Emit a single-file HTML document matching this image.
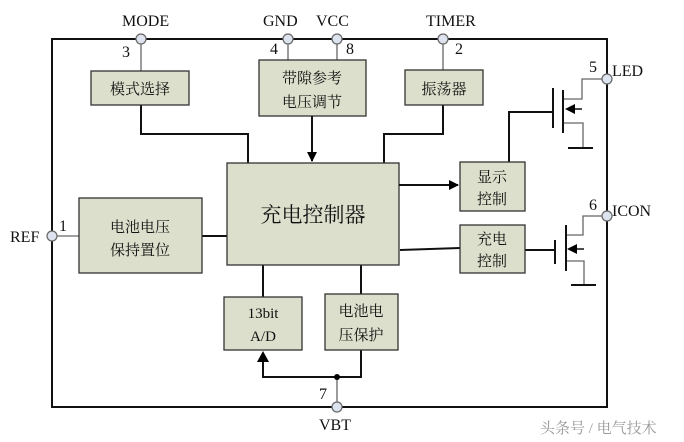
<!DOCTYPE html>
<html><head><meta charset="utf-8"><style>
html,body{margin:0;padding:0;background:#fff;}
svg{display:block;}
text{font-family:"Liberation Serif","Noto Serif CJK SC",serif;fill:#111;}
.c{font-family:"Liberation Serif","Noto Serif CJK SC",serif;font-size:15px;}
</style></head><body>
<svg width="684" height="442" viewBox="0 0 684 442" xmlns="http://www.w3.org/2000/svg">
<defs><marker id="a" markerWidth="10" markerHeight="10" refX="9" refY="5" orient="auto" markerUnits="userSpaceOnUse"><path d="M0,0 L10,5 L0,10 z" fill="#000"/></marker></defs>
<rect x="52" y="39" width="555" height="368" fill="none" stroke="#111" stroke-width="2"/>
<g stroke="#666" stroke-width="1.3" fill="none">
<path d="M141 39V71M288 39V60M337 39V60M443 39V70M52 236H79M337 377V407"/>
<path d="M563 99H582V79H607M563 123H583V148M566 235H583V216H607M566 261H584V285"/>
</g>
<g stroke="#111" stroke-width="2" fill="none">
<path d="M141 105V134H248V163M443 105V134H384V163M202 236H227M509 162V112H553M525 250H555M400 250L460 248M263 265V297M361 265V294M361 350V377H263V360"/>
<path d="M553 88V128M563 90V133M568 148H593M555 240V264M566 225V271M571 285H596"/>
</g>
<g fill="#dbdfcb" stroke="#333" stroke-width="1.3">
<rect x="91" y="71" width="98" height="34"/>
<rect x="259" y="60" width="107" height="56"/>
<rect x="405" y="70" width="78" height="35"/>
<rect x="227" y="163" width="172" height="102"/>
<rect x="79" y="198" width="123" height="75"/>
<rect x="460" y="162" width="65" height="49"/>
<rect x="460" y="225" width="65" height="48"/>
<rect x="224" y="297" width="78" height="53"/>
<rect x="325" y="294" width="73" height="56"/>
</g>
<path d="M312 116V161" stroke="#111" stroke-width="2" marker-end="url(#a)"/>
<path d="M399 185H458" stroke="#111" stroke-width="2" marker-end="url(#a)"/>
<path d="M263 351L257 362H269Z" fill="#000"/>
<path d="M582 109H573" stroke="#111" stroke-width="1.5"/><path d="M565 109L575 104V114Z" fill="#000"/>
<path d="M584 249H575" stroke="#111" stroke-width="1.5"/><path d="M567 249L577 244V254Z" fill="#000"/>
<circle cx="337" cy="377" r="3" fill="#000"/>
<g fill="#dde4ef" stroke="#666" stroke-width="1.2">
<circle cx="141" cy="39" r="5"/><circle cx="288" cy="39" r="5"/><circle cx="337" cy="39" r="5"/><circle cx="443" cy="39" r="5"/>
<circle cx="607" cy="79" r="5"/><circle cx="607" cy="216" r="5"/><circle cx="52" cy="236" r="5"/><circle cx="337" cy="407" r="5"/>
</g>
<g font-size="16">
<text x="122" y="26">MODE</text><text x="263" y="26">GND</text><text x="316" y="26">VCC</text><text x="426" y="26">TIMER</text>
<text x="612" y="76">LED</text><text x="612" y="216">ICON</text><text x="10" y="242">REF</text><text x="319" y="430">VBT</text>
<text x="122" y="57">3</text><text x="270" y="54">4</text><text x="346" y="54">8</text><text x="455" y="54">2</text>
<text x="589" y="72">5</text><text x="589" y="210">6</text><text x="59" y="231">1</text><text x="319" y="399">7</text>
</g>
<g class="c" text-anchor="middle">
<text x="140" y="94">模式选择</text>
<text x="312" y="83">带隙参考</text><text x="312" y="107">电压调节</text>
<text x="444" y="94">振荡器</text>
<text x="313" y="222" font-size="21">充电控制器</text>
<text x="140" y="232">电池电压</text><text x="140" y="255">保持置位</text>
<text x="492" y="182">显示</text><text x="492" y="204">控制</text>
<text x="492" y="244">充电</text><text x="492" y="266">控制</text>
<text x="263" y="318">13bit</text><text x="263" y="341">A/D</text>
<text x="361" y="316">电池电</text><text x="361" y="340">压保护</text>
</g>
<text x="540" y="433" class="c" font-size="13" style="fill:#999">头条号 / 电气技术</text>
</svg>
</body></html>
